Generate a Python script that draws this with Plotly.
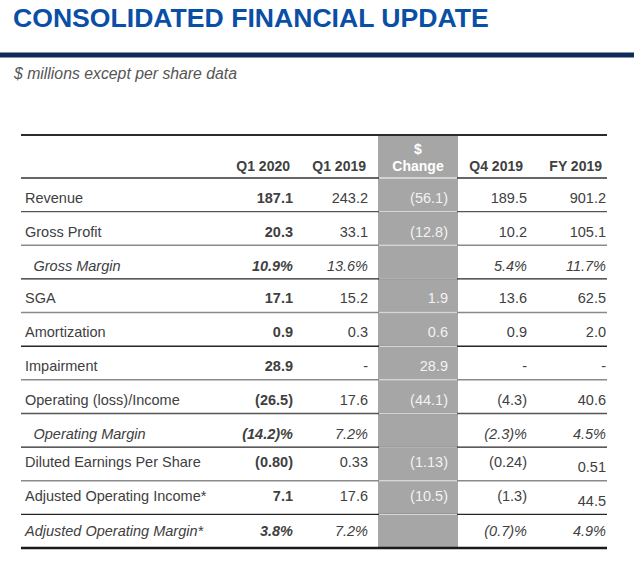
import plotly.graph_objects as go

# table content
row_labels = ["Revenue", "Gross Profit", "Gross Margin", "SGA", "Amortization", "Impairment",
              "Operating (loss)/Income", "Operating Margin", "Diluted Earnings Per Share",
              "Adjusted Operating Income*", "Adjusted Operating Margin*"]
q1_2020 = ["187.1", "20.3", "10.9%", "17.1", "0.9", "28.9", "(26.5)", "(14.2)%", "(0.80)", "7.1", "3.8%"]
q1_2019 = ["243.2", "33.1", "13.6%", "15.2", "0.3", "-", "17.6", "7.2%", "0.33", "17.6", "7.2%"]
change = ["(56.1)", "(12.8)", "", "1.9", "0.6", "28.9", "(44.1)", "", "(1.13)", "(10.5)", ""]
q4_2019 = ["189.5", "10.2", "5.4%", "13.6", "0.9", "-", "(4.3)", "(2.3)%", "(0.24)", "(1.3)", "(0.7)%"]
fy_2019 = ["901.2", "105.1", "11.7%", "62.5", "2.0", "-", "40.6", "4.5%", "0.51", "44.5", "4.9%"]
headers = ["Q1 2020", "Q1 2019", "Q4 2019", "FY 2019"]
italic_rows = ["Gross Margin", "Operating Margin", "Adjusted Operating Margin*"]
indented_rows = ["Gross Margin", "Operating Margin"]

FONT = "Liberation Sans, Arial, sans-serif"
TXT = "#404040"
GRAY_COL = "#a6a6a6"

# axes map 1:1 to page pixels
W, H = 634, 562

# layout geometry (pixels)
row_top, row_bottom = 178, 548
n = len(row_labels)
row_h = (row_bottom - row_top) / n
text_shift = [4.5, 4.5, 5, 4, 4.5, 4, 5, 5, -1, 0, 1]
fy_shift = [0, 0, 0, 0, 0, 0, 0, 0, 5, 5, 0]
row_y = [row_top + (i + 0.5) * row_h + text_shift[i] for i in range(n)]
label_x = 25
indent_x = 33.5
col_right = [293, 368, 448, 527, 606]
head_right = [290, 366, 523, 602]
gray_x0, gray_x1 = 378, 458
sep_colors = ["#555555", "#8a8a8a", "#262626", "#8a8a8a", "#262626", "#8a8a8a",
              "#555555", "#262626", "#8a8a8a", "#262626"]


def style(vals, bold=False):
    out = []
    for lab, v in zip(row_labels, vals):
        if lab in italic_rows:
            v = "<i>" + v + "</i>"
        if bold:
            v = "<b>" + v + "</b>"
        out.append(v)
    return out


fig = go.Figure()

# row labels
fig.add_trace(go.Scatter(
    x=[indent_x if lab in indented_rows else label_x for lab in row_labels],
    y=row_y, mode="text", text=style(row_labels), textposition="middle right",
    textfont=dict(family=FONT, size=14.5, color=TXT), hoverinfo="skip"))

# number columns
columns = [(q1_2020, True, TXT, [0] * n), (q1_2019, False, TXT, [0] * n),
           (change, False, "#f2f2f2", [0] * n), (q4_2019, False, TXT, [0] * n),
           (fy_2019, False, TXT, fy_shift)]
for (vals, bold, color, shift), xr in zip(columns, col_right):
    fig.add_trace(go.Scatter(
        x=[xr] * n, y=[y + s for y, s in zip(row_y, shift)], mode="text",
        text=style(vals, bold), textposition="middle left",
        textfont=dict(family=FONT, size=14.5, color=color), hoverinfo="skip"))

# column headers
fig.add_trace(go.Scatter(
    x=head_right, y=[167] * len(headers), mode="text",
    text=["<b>" + h + "</b>" for h in headers], textposition="middle left",
    textfont=dict(family=FONT, size=14, color=TXT), hoverinfo="skip"))
fig.add_trace(go.Scatter(
    x=[(gray_x0 + gray_x1) / 2] * 2, y=[150, 167], mode="text",
    text=["<b>$</b>", "<b>Change</b>"], textposition="middle center",
    textfont=dict(family=FONT, size=14, color="#ffffff"), hoverinfo="skip"))

# rules and shading
shapes = [dict(type="rect", xref="paper", yref="y", x0=0, x1=1, y0=52.5, y1=57.5,
               fillcolor="#0f2b59", line_width=0)]
for i in range(n - 1):
    y = row_top + (i + 1) * row_h
    shapes.append(dict(type="line", xref="x", yref="y", x0=21, x1=607, y0=y, y1=y,
                       line=dict(color=sep_colors[i], width=1.4)))
shapes.append(dict(type="line", xref="x", yref="y", x0=21, x1=607, y0=row_top, y1=row_top,
                   line=dict(color="#333333", width=1.4)))
shapes.append(dict(type="rect", xref="x", yref="y", x0=gray_x0, x1=gray_x1, y0=135, y1=row_bottom,
                   fillcolor=GRAY_COL, line_width=0, layer="below"))
for i in range(n):
    y = row_top + i * row_h
    shapes.append(dict(type="line", xref="x", yref="y", x0=gray_x0 + 1, x1=gray_x1 - 1, y0=y, y1=y,
                       line=dict(color="#ffffff" if i == 0 else "#d6d6d6", width=1.4)))
shapes.append(dict(type="line", xref="x", yref="y", x0=21, x1=607, y0=135, y1=135,
                   line=dict(color="#2b2b2b", width=2.2)))
shapes.append(dict(type="line", xref="x", yref="y", x0=21, x1=607, y0=row_bottom, y1=row_bottom,
                   line=dict(color="#1a1a1a", width=2.6)))

fig.update_layout(
    width=W, height=H, margin=dict(l=0, r=0, t=0, b=0),
    paper_bgcolor="white", plot_bgcolor="white", showlegend=False,
    xaxis=dict(range=[0, W], visible=False, fixedrange=True),
    yaxis=dict(range=[H, 0], visible=False, fixedrange=True),
    shapes=shapes,
    annotations=[
        dict(text="<b>CONSOLIDATED FINANCIAL UPDATE</b>", xref="x", yref="y",
             x=11, y=18, xanchor="left", yanchor="middle", showarrow=False,
             font=dict(family=FONT, size=26.6, color="#0a4fa6")),
        dict(text="<i>$ millions except per share data</i>", xref="x", yref="y",
             x=11, y=73, xanchor="left", yanchor="middle", showarrow=False,
             font=dict(family=FONT, size=15.8, color="#555555")),
    ],
)

# drop the default 8px page margin so the figure sits at the window's corner
fig.write_html("out.html", config={"displayModeBar": False},
               post_script="document.body.style.margin = '0';")
